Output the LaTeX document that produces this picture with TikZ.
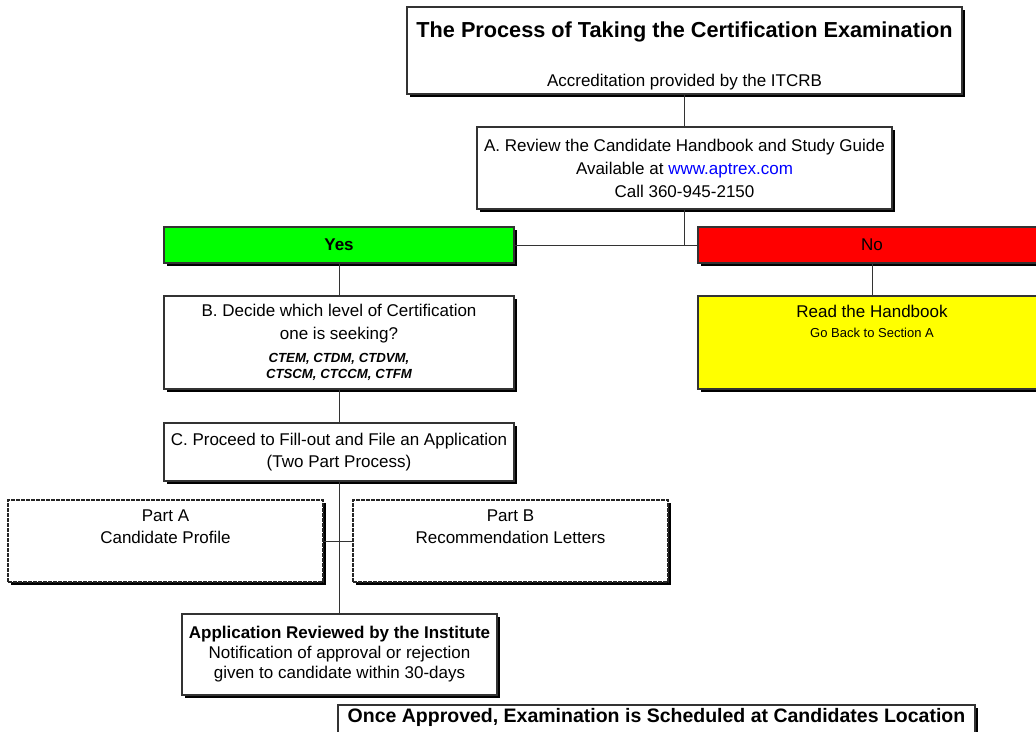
\documentclass[tikz,border=0pt]{standalone}
\usepackage{fontspec}
\setmainfont{Liberation Sans}
\usetikzlibrary{positioning,shadows}

\definecolor{boxline}{HTML}{333333}
\definecolor{yesgreen}{HTML}{00FF00}
\definecolor{nored}{HTML}{FF0000}
\definecolor{readyellow}{HTML}{FFFF00}
\definecolor{linkblue}{HTML}{0000FF}

\newcommand{\backfont}{\fontsize{13}{16}\selectfont}
\newcommand{\levelfont}{\fontsize{13.2}{16}\selectfont\bfseries\itshape}

\tikzset{
  stagebox/.style={draw=boxline, line width=1.2pt, fill=white, inner sep=0pt, align=center,
    drop shadow={shadow xshift=3pt, shadow yshift=-3pt, opacity=1, fill=black}},
  partbox/.style={stagebox, draw=black!85, line width=1.3pt, dash pattern=on 4pt off 1pt},
  txt/.style={inner sep=0pt, align=center},
  link/.style={draw=boxline, line width=1pt}
}

\begin{document}
\begin{tikzpicture}[x=1pt, y=-1pt, font=\fontsize{17}{23}\selectfont]
    \useasboundingbox (0,0) rectangle (1036,731);

    % header
    \node[stagebox, minimum width=555pt, minimum height=87pt] (title) at (684.5,50.5) {};
    \node[txt, below=15pt of title.north, font=\fontsize{21.7}{26}\selectfont\bfseries] (titletxt)
        {The Process of Taking the Certification Examination};
    \node[txt, above=8pt of title.south, anchor=base] (accred) {Accreditation provided by the ITCRB};

    % step A and the yes/no split
    \node[stagebox, minimum width=415pt, minimum height=82pt] (review) at (684.5,168)
        {A. Review the Candidate Handbook and Study Guide\\Available at \textcolor{linkblue}{www.aptrex.com}\\Call 360-945-2150};
    \node[stagebox, fill=yesgreen, minimum width=350pt, minimum height=36pt, font=\fontsize{17}{23}\selectfont\bfseries] (yes) at (339,245) {Yes};
    \node[stagebox, fill=nored, minimum width=348pt, minimum height=36pt] (no) at (872,245) {No};
    \coordinate (fork) at (review.south |- yes.east);

    % no branch
    \node[stagebox, fill=readyellow, minimum width=348pt, minimum height=93pt] (handbook) at (872,342.5) {};
    \node[txt, below=10pt of handbook.north] (handbooktxt) {Read the Handbook\\[-3pt]{\backfont Go Back to Section A}};

    % yes branch
    \node[stagebox, minimum width=350pt, minimum height=93pt] (decide) at (339,342.5)
        {B. Decide which level of Certification\\one is seeking?\\{\levelfont CTEM, CTDM, CTDVM,}\\[-7pt]{\levelfont CTSCM, CTCCM, CTFM}};
    \node[stagebox, minimum width=350pt, minimum height=58pt] (apply) at (339,452)
        {C. Proceed to Fill-out and File an Application\\[-1pt](Two Part Process)};

    \node[partbox, minimum width=315pt, minimum height=82pt] (partA) at (165.5,541) {};
    \node[txt, below=10pt of partA.north] (partAtxt) {Part A\\[-1pt]Candidate Profile};
    \node[partbox, minimum width=315pt, minimum height=82pt] (partB) at (510.5,541) {};
    \node[txt, below=10pt of partB.north] (partBtxt) {Part B\\[-1pt]Recommendation Letters};

    \node[stagebox, minimum width=315pt, minimum height=81pt, font=\fontsize{17}{20}\selectfont] (verdict) at (339.5,654.5)
        {\textbf{Application Reviewed by the Institute}\\Notification of approval or rejection\\given to candidate within 30-days};

    \node[stagebox, minimum width=637pt, minimum height=50pt] (schedule) at (656.5,730) {};
    \node[txt, below=4pt of schedule.north, font=\fontsize{19.5}{23}\selectfont\bfseries] (scheduletxt)
        {Once Approved, Examination is Scheduled at Candidates Location};

    % connectors
    \draw[link] (title) -- (review);
    \draw[link] (review) -- (fork);
    \draw[link] (yes) -- (no);
    \draw[link] (no) -- (handbook);
    \draw[link] (yes) -- (decide);
    \draw[link] (decide) -- (apply);
    \draw[link] (apply.south) -- (apply.south |- verdict.north);
    \draw[link] (partA) -- (partB);
\end{tikzpicture}
\end{document}
